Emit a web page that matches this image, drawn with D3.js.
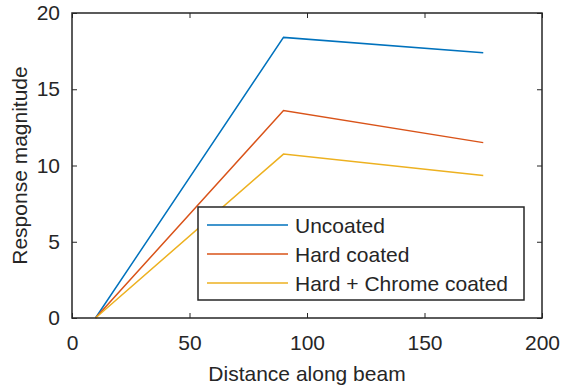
<!DOCTYPE html>
<html>
<head>
<meta charset="utf-8">
<script src="https://cdn.jsdelivr.net/npm/d3@7"></script>
<style>
  body { margin: 0; background: #fff; }
  text { font-family: "Liberation Sans", Arial, sans-serif; fill: #262626; }
</style>
</head>
<body>
<svg id="chart" width="563" height="390"></svg>
<script>
var distance = [10, 90, 175];
var uncoated = [0, 18.4, 17.4];
var hardCoated = [0, 13.6, 11.5];
var chromeCoated = [0, 10.75, 9.35];
var xTicks = [0, 50, 100, 150, 200];
var yTicks = [0, 5, 10, 15, 20];
var seriesNames = ['Uncoated', 'Hard coated', 'Hard + Chrome coated'];
var seriesColors = ['#0072bd', '#d95319', '#edb120'];

(function() {
  var series = [uncoated, hardCoated, chromeCoated];
  var axisColor = '#262626';

  var svg = d3.select('#chart');
  var plotLeft = 72, plotRight = 542, plotTop = 13, plotBottom = 318;

  var x = d3.scaleLinear().domain([0, 200]).range([plotLeft, plotRight]);
  var y = d3.scaleLinear().domain([0, 20]).range([plotBottom, plotTop]);

  // lines
  var line = d3.line()
    .x(function(d, i) { return x(distance[i]); })
    .y(function(d) { return y(d); });

  series.forEach(function(vals, i) {
    svg.append('path')
      .attr('d', line(vals))
      .attr('fill', 'none')
      .attr('stroke', seriesColors[i])
      .attr('stroke-width', 1.5);
  });

  // axes (box with inward ticks, MATLAB style)
  function styleAxis(g) {
    g.select('.domain').remove();
    g.selectAll('.tick line').attr('stroke', axisColor).attr('stroke-width', 1);
    g.selectAll('.tick text').attr('font-size', 21).attr('fill', axisColor)
      .style('font-family', '"Liberation Sans", Arial, sans-serif');
  }

  svg.append('g').attr('transform', 'translate(0,' + plotBottom + ')')
    .call(d3.axisBottom(x).tickValues(xTicks).tickSize(-5).tickPadding(17))
    .call(styleAxis);
  svg.append('g').attr('transform', 'translate(0,' + plotTop + ')')
    .call(d3.axisTop(x).tickValues(xTicks).tickSize(-5).tickFormat(''))
    .call(styleAxis);
  svg.append('g').attr('transform', 'translate(' + plotLeft + ',0)')
    .call(d3.axisLeft(y).tickValues(yTicks).tickSize(-5).tickPadding(12))
    .call(styleAxis);
  svg.append('g').attr('transform', 'translate(' + plotRight + ',0)')
    .call(d3.axisRight(y).tickValues(yTicks).tickSize(-5).tickFormat(''))
    .call(styleAxis);

  svg.append('rect')
    .attr('x', plotLeft).attr('y', plotTop)
    .attr('width', plotRight - plotLeft).attr('height', plotBottom - plotTop)
    .attr('fill', 'none').attr('stroke', axisColor).attr('stroke-width', 1.5);

  // axis labels
  svg.append('text')
    .attr('x', (plotLeft + plotRight) / 2).attr('y', 381)
    .attr('text-anchor', 'middle').attr('font-size', 21)
    .text('Distance along beam');

  svg.append('text')
    .attr('transform', 'translate(27,' + (plotTop + plotBottom) / 2 + ') rotate(-90)')
    .attr('text-anchor', 'middle').attr('font-size', 21)
    .text('Response magnitude');

  // legend
  var legend = svg.append('g');
  legend.append('rect')
    .attr('x', 198).attr('y', 207).attr('width', 326).attr('height', 93)
    .attr('fill', '#fff').attr('stroke', axisColor).attr('stroke-width', 1.5);

  seriesNames.forEach(function(name, i) {
    var ry = 225 + i * 29;
    legend.append('line')
      .attr('x1', 207).attr('x2', 288).attr('y1', ry).attr('y2', ry)
      .attr('stroke', seriesColors[i]).attr('stroke-width', 1.5);
    legend.append('text')
      .attr('x', 295).attr('y', ry).attr('dy', '0.36em')
      .attr('font-size', 21)
      .text(name);
  });
})();
</script>
</body>
</html>
